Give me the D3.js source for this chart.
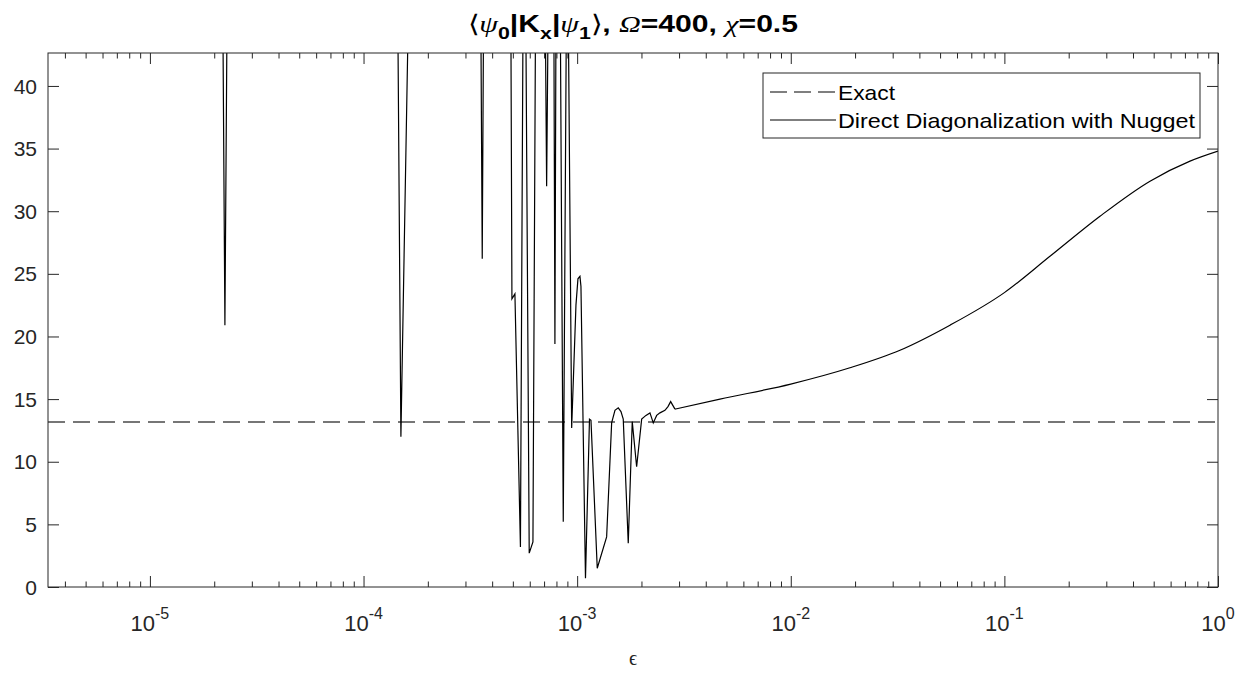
<!DOCTYPE html>
<html>
<head>
<meta charset="utf-8">
<script src="https://cdn.jsdelivr.net/npm/d3@7"></script>
<style>
  body { margin: 0; background: #fff; }
  svg { font-family: "Liberation Sans", Arial, Helvetica, sans-serif; }
</style>
</head>
<body>
<div class="chart"></div>
<script>
var svgWidth = 1253;
var svgHeight = 675;

var margin = { top: 53, right: 35, bottom: 88, left: 48 };
var width = svgWidth - margin.left - margin.right;
var height = svgHeight - margin.top - margin.bottom;

// epsilon (x) and <psi0|Kx|psi1> (y)
// values above the plot top are just kept slightly off-chart (clipped)
// noisy part, eps <= ~2.9e-3
var epsNoisy = [3.333e-6, 2.198e-5, 2.244e-5, 2.293e-5, 1.449e-4, 1.496e-4, 1.614e-4,
  3.545e-4, 3.595e-4, 3.642e-4, 4.898e-4, 4.951e-4, 5.113e-4, 5.426e-4, 5.574e-4,
  5.757e-4, 5.965e-4, 6.209e-4, 6.378e-4, 7.105e-4, 7.197e-4, 7.299e-4, 7.785e-4,
  7.869e-4, 7.953e-4, 8.35e-4, 8.609e-4, 8.892e-4, 9.106e-4, 9.426e-4, 9.872e-4,
  1.0086e-3, 1.0306e-3, 1.0418e-3, 1.0939e-3, 1.1421e-3, 1.1607e-3, 1.2418e-3,
  1.3741e-3, 1.4503e-3, 1.5031e-3, 1.5573e-3, 1.6036e-3, 1.6436e-3, 1.7346e-3,
  1.8109e-3, 1.8989e-3, 2.0045e-3, 2.0994e-3, 2.1919e-3, 2.2714e-3, 2.3561e-3,
  2.4412e-3, 2.5763e-3, 2.6614e-3, 2.7397e-3, 2.8703e-3];

var nuggetNoisy = [44, 44, 20.9, 44, 44, 12.0, 44,
  44, 26.2, 44, 44, 23.0, 23.4, 3.2, 44,
  44, 2.7, 3.6, 44, 44, 32.0, 44, 44,
  19.4, 44, 44, 5.2, 44, 44, 12.7, 22.5,
  24.6, 24.8, 24.0, 0.7, 13.4, 13.3, 1.5,
  4.0, 13.1, 14.1, 14.3, 14.0, 13.4, 3.5,
  13.2, 9.6, 13.4, 13.7, 13.9, 13.1, 13.7,
  13.9, 14.1, 14.4, 14.8, 14.2];

// smooth part, eps >= 2.87e-3
var epsSmooth = [2.8703e-3, 4.662e-3, 1e-2, 1.893e-2, 3.245e-2, 5.563e-2, 0.1,
  0.1634, 0.2802, 0.4804, 0.7396, 1.0];
var nuggetSmooth = [14.2, 15.0, 16.2, 17.5, 18.9, 20.9, 23.5,
  26.4, 29.6, 32.4, 34.0, 34.8];

var exactVal = 13.17;

var xMajor = [1e-5, 1e-4, 1e-3, 1e-2, 1e-1, 1];
var xMajorExp = ["-5", "-4", "-3", "-2", "-1", "0"];
var yTicks = [0, 5, 10, 15, 20, 25, 30, 35, 40];

var axisColor = "#262626";

var svg = d3.select(".chart")
  .append("svg")
  .attr("width", svgWidth)
  .attr("height", svgHeight);

var chartGroup = svg.append("g")
  .attr("transform", `translate(${margin.left}, ${margin.top})`);

var xLogScale = d3.scaleLog().domain([3.3333e-6, 1]).range([0, width]);
var yLinearScale = d3.scaleLinear().domain([0, 42.63]).range([height, 0]);

// minor ticks 2..9 x each decade
var xMinor = [];
for (var e = -6; e < 0; e++) {
  for (var m = 2; m <= 9; m++) {
    var v = m * Math.pow(10, e);
    if (v > 3.3333e-6 && v < 1) xMinor.push(v);
  }
}

svg.append("defs").append("clipPath").attr("id", "plotClip")
  .append("rect").attr("width", width).attr("height", height);

// axes: ticks drawn inward on all four sides
function styleAxis(g) {
  g.select(".domain").remove();
  g.selectAll("line").attr("stroke", axisColor);
  g.selectAll("text").remove();
}

chartGroup.append("g").attr("transform", `translate(0, ${height})`)
  .call(d3.axisBottom(xLogScale).tickValues(xMajor).tickSize(-11)).call(styleAxis);
chartGroup.append("g").attr("transform", `translate(0, ${height})`)
  .call(d3.axisBottom(xLogScale).tickValues(xMinor).tickSize(-5.5)).call(styleAxis);
chartGroup.append("g")
  .call(d3.axisTop(xLogScale).tickValues(xMajor).tickSize(-11)).call(styleAxis);
chartGroup.append("g")
  .call(d3.axisTop(xLogScale).tickValues(xMinor).tickSize(-5.5)).call(styleAxis);
chartGroup.append("g")
  .call(d3.axisLeft(yLinearScale).tickValues(yTicks).tickSize(-11)).call(styleAxis);
chartGroup.append("g").attr("transform", `translate(${width}, 0)`)
  .call(d3.axisRight(yLinearScale).tickValues(yTicks).tickSize(-11)).call(styleAxis);

// y tick labels
chartGroup.append("g").selectAll("text")
  .data(yTicks)
  .enter()
  .append("text")
  .attr("x", -11)
  .attr("y", d => yLinearScale(d))
  .attr("dy", "0.36em")
  .attr("text-anchor", "end")
  .attr("fill", axisColor)
  .style("font-size", "21px")
  .text(d => d);

// x tick labels 10^n
var xLabels = chartGroup.append("g").selectAll("text")
  .data(xMajor)
  .enter()
  .append("text")
  .attr("x", d => xLogScale(d))
  .attr("y", height + 44)
  .attr("text-anchor", "middle")
  .attr("fill", axisColor)
  .style("font-size", "22px");
xLabels.append("tspan").text("10");
xLabels.append("tspan")
  .attr("dy", -12)
  .style("font-size", "16px")
  .text((d, i) => xMajorExp[i]);

// data
var plotArea = chartGroup.append("g").attr("clip-path", "url(#plotClip)");

plotArea.append("line")
  .attr("x1", 0).attr("x2", width)
  .attr("y1", yLinearScale(exactVal)).attr("y2", yLinearScale(exactVal))
  .attr("stroke", "#4a4a4a")
  .attr("stroke-width", 1.6)
  .attr("stroke-dasharray", "17,8");

var noisyLine = d3.line()
  .x(i => xLogScale(epsNoisy[i]))
  .y(i => yLinearScale(nuggetNoisy[i]));

var smoothLine = d3.line()
  .x(i => xLogScale(epsSmooth[i]))
  .y(i => yLinearScale(nuggetSmooth[i]))
  .curve(d3.curveMonotoneX);

plotArea.append("path")
  .datum(d3.range(epsNoisy.length))
  .attr("d", noisyLine)
  .attr("fill", "none")
  .attr("stroke", "#000")
  .attr("stroke-width", 1.2);

plotArea.append("path")
  .datum(d3.range(epsSmooth.length))
  .attr("d", smoothLine)
  .attr("fill", "none")
  .attr("stroke", "#000")
  .attr("stroke-width", 1.2);

// box
chartGroup.append("rect")
  .attr("width", width).attr("height", height)
  .attr("fill", "none")
  .attr("stroke", axisColor)
  .attr("stroke-width", 1);

// legend
var legend = svg.append("g").attr("transform", "translate(763, 73)");
legend.append("rect")
  .attr("width", 437).attr("height", 65)
  .attr("fill", "#fff")
  .attr("stroke", axisColor)
  .attr("stroke-width", 1);
legend.append("line")
  .attr("x1", 7).attr("x2", 73).attr("y1", 19).attr("y2", 19)
  .attr("stroke", "#000").attr("stroke-width", 1.2)
  .attr("stroke-dasharray", "17,7");
legend.append("text")
  .attr("x", 75).attr("y", 27)
  .attr("fill", "#000")
  .attr("textLength", 57)
  .attr("lengthAdjust", "spacingAndGlyphs")
  .style("font-size", "21px")
  .text("Exact");
legend.append("line")
  .attr("x1", 7).attr("x2", 73).attr("y1", 47).attr("y2", 47)
  .attr("stroke", "#000").attr("stroke-width", 1.2);
legend.append("text")
  .attr("x", 75).attr("y", 55)
  .attr("fill", "#000")
  .attr("textLength", 357)
  .attr("lengthAdjust", "spacingAndGlyphs")
  .style("font-size", "21px")
  .text("Direct Diagonalization with Nugget");

// title
var title = svg.append("text")
  .attr("x", margin.left + width / 2)
  .attr("y", 32)
  .attr("text-anchor", "middle")
  .attr("fill", "#000")
  .attr("textLength", 330)
  .attr("lengthAdjust", "spacingAndGlyphs")
  .style("font-size", "24px")
  .style("font-weight", "bold");
function part(txt, opts) {
  var t = title.append("tspan").text(txt);
  if (opts && opts.it) t.style("font-style", "italic").style("font-weight", "normal")
    .style("font-family", "'Liberation Serif', serif");
  if (opts && opts.normal) t.style("font-weight", "normal");
  if (opts && opts.sub) t.attr("dy", 7).style("font-size", "17px");
  if (opts && opts.up) t.attr("dy", -7);
  return t;
}
part("\u27E8", { normal: true });
part("\u03C8", { it: true });
part("0", { sub: true });
part("|K", { up: true });
part("x", { sub: true });
part("|", { up: true });
part("\u03C8", { it: true });
part("1", { sub: true });
part("\u27E9", { normal: true, up: true });
part(", ");
part("\u03A9", { it: true });
part("=400, ");
part("\u03C7", { it: true });
part("=0.5");

// x label
svg.append("text")
  .attr("x", margin.left + width / 2)
  .attr("y", 665)
  .attr("text-anchor", "middle")
  .attr("fill", axisColor)
  .style("font-size", "20px")
  .style("font-family", "'Liberation Serif', serif")
  .text("\u03F5");
</script>
</body>
</html>
